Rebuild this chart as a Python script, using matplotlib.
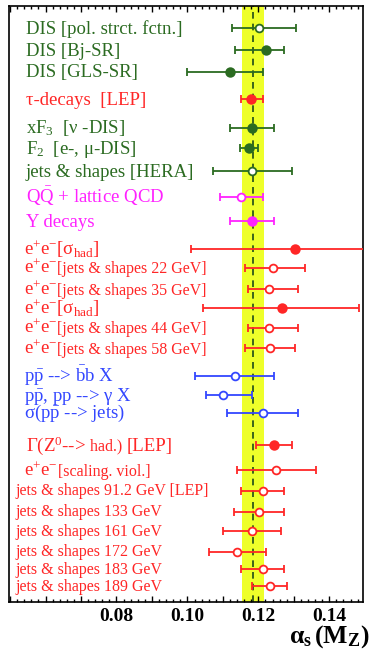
import matplotlib
matplotlib.use("Agg")
import matplotlib.pyplot as plt
from matplotlib.ticker import MultipleLocator, FuncFormatter
from matplotlib.transforms import blended_transform_factory

plt.rcParams['font.family'] = ['Liberation Serif', 'DejaVu Serif']
plt.rcParams['mathtext.fontset'] = 'custom'
plt.rcParams['mathtext.rm'] = 'Liberation Serif'
plt.rcParams['mathtext.it'] = 'Liberation Serif:italic'
plt.rcParams['mathtext.bf'] = 'Liberation Serif:bold'

GREEN = '#2b6b21'
RED = '#ff2626'
MAGENTA = '#ff22ff'
BLUE = '#3347ff'

BIG = 13.5
SMALL = 11.5

# labels: list of (text, fontsize) parts
labels = [
    [("DIS [pol. strct. fctn.]", BIG)],
    [("DIS [Bj-SR]", BIG)],
    [("DIS [GLS-SR]", BIG)],
    [("τ-decays  [LEP]", BIG)],
    [("xF$_3$  [ν -DIS]", BIG)],
    [("F$_2$  [e-, μ-DIS]", BIG)],
    [("jets & shapes [HERA]", BIG)],
    [(r"Q$\bar{\mathrm{Q}}$ + lattice QCD", BIG)],
    [("Υ decays", BIG)],
    [(r"e$^{+}$e$^{-}$[σ$_{\mathrm{had}}$]", BIG)],
    [(r"e$^{+}$e$^{-}$", BIG), ("[jets & shapes 22 GeV]", SMALL)],
    [(r"e$^{+}$e$^{-}$", BIG), ("[jets & shapes 35 GeV]", SMALL)],
    [(r"e$^{+}$e$^{-}$[σ$_{\mathrm{had}}$]", BIG)],
    [(r"e$^{+}$e$^{-}$", BIG), ("[jets & shapes 44 GeV]", SMALL)],
    [(r"e$^{+}$e$^{-}$", BIG), ("[jets & shapes 58 GeV]", SMALL)],
    [(r"p$\bar{\mathrm{p}}$ --> $\bar{\mathrm{b}}$b X", BIG)],
    [(r"p$\bar{\mathrm{p}}$, pp --> γ X", BIG)],
    [(r"σ(p$\bar{\mathrm{p}}$ --> jets)", BIG)],
    [("Γ(Z$^{0}$-->", BIG), (" had.) ", SMALL), ("[LEP]", BIG)],
    [(r"e$^{+}$e$^{-}$", BIG), ("[scaling. viol.]", SMALL)],
    [("jets & shapes 91.2 GeV [LEP]", SMALL)],
    [("jets & shapes 133 GeV", SMALL)],
    [("jets & shapes 161 GeV", SMALL)],
    [("jets & shapes 172 GeV", SMALL)],
    [("jets & shapes 183 GeV", SMALL)],
    [("jets & shapes 189 GeV", SMALL)],
]

alpha_s = [0.1201, 0.1221, 0.1121, 0.1180, 0.1182, 0.1174, 0.1182, 0.1151, 0.1182,
           0.1302, 0.1241, 0.1230, 0.1267, 0.1230, 0.1232,
           0.1135, 0.1100, 0.1212,
           0.1243, 0.1250, 0.1212, 0.1201, 0.1182, 0.1141, 0.1212, 0.1232]
err_minus = [0.0075, 0.0086, 0.0121, 0.0029, 0.0061, 0.0025, 0.0111, 0.0060, 0.0061,
             0.0291, 0.0078, 0.0060, 0.0223, 0.0058, 0.0069,
             0.0115, 0.0048, 0.0101,
             0.0050, 0.0110, 0.0061, 0.0071, 0.0083, 0.0081, 0.0060, 0.0050]
err_plus = [0.0105, 0.0052, 0.0092, 0.0032, 0.0061, 0.0025, 0.0113, 0.0062, 0.0061,
            0.0210, 0.0091, 0.0082, 0.0218, 0.0083, 0.0072,
            0.0108, 0.0082, 0.0101,
            0.0052, 0.0113, 0.0061, 0.0072, 0.0082, 0.0080, 0.0061, 0.0050]
filled = [False, True, True, True, True, True, False, False, True,
          True, False, False, True, False, False,
          False, False, False,
          True, False, False, False, False, False, False, False]
colors = [GREEN] * 3 + [RED] + [GREEN] * 3 + [MAGENTA] * 2 + [RED] * 6 + [BLUE] * 3 + [RED] * 8

world_avg = 0.1184
world_err = 0.0031

# row layout (pixel rows from top) and label start (pixels)
row_y = [28.3, 50, 71.7, 99.3, 127.7, 148.3, 171, 197.3, 221,
         249.3, 267.7, 289, 308.3, 327.7, 348.3,
         376, 395, 412.7,
         445, 470, 490.7, 511.7, 531, 551.7, 569.3, 586]
label_x = [25.5] * 9 + [23.5] * 6 + [24.5] * 3 + [26, 24.3] + [15] * 6

fig = plt.figure(figsize=(3.72, 6.54), dpi=100)
ax = fig.add_axes([9 / 372, 52 / 654, 354 / 372, 596 / 654])
ax.set_xlim(0.0497, 0.1495)
ax.set_ylim(602, 6)

ax.axvspan(world_avg - world_err, world_avg + world_err, color='#eeff2a', zorder=1, lw=0)
ax.axvline(world_avg, color='#1d4a1a', ls=(0, (4, 3)), lw=1.2, zorder=2)

for i in range(len(alpha_s)):
    c = colors[i]
    ax.errorbar(alpha_s[i], row_y[i], xerr=[[err_minus[i]], [err_plus[i]]], fmt='o',
                color=c, ecolor=c, elinewidth=1.3, capsize=3, capthick=1.3,
                markersize=6.2 if filled[i] else 5.6,
                markerfacecolor=c if filled[i] else 'white',
                markeredgecolor=c, markeredgewidth=1.3, zorder=3)

trans = blended_transform_factory(ax.transAxes, ax.transData)
renderer = fig.canvas.get_renderer()
for i, parts in enumerate(labels):
    x = (label_x[i] - 9) / 354
    base = row_y[i] + 0.3 * parts[0][1] * 100 / 72
    for txt, size in parts:
        t = ax.text(x, base, txt, transform=trans, fontsize=size, color=colors[i],
                    ha='left', va='baseline')
        bb = t.get_window_extent(renderer)
        x = ax.transAxes.inverted().transform((bb.x1, bb.y0))[0]

ax.xaxis.set_major_locator(MultipleLocator(0.01))
ax.xaxis.set_minor_locator(MultipleLocator(0.002))
shown = {8: '0.08', 10: '0.10', 12: '0.12', 14: '0.14'}
ax.xaxis.set_major_formatter(FuncFormatter(lambda v, p: shown.get(int(round(v * 100)), '')))
ax.tick_params(axis='x', which='both', direction='in', top=True, bottom=True, width=1)
ax.tick_params(axis='x', which='major', length=4, pad=4, labelsize=14)
ax.tick_params(axis='x', which='minor', length=2)
for lab in ax.get_xticklabels():
    lab.set_fontweight('bold')
ax.set_yticks([])
for s in ax.spines.values():
    s.set_linewidth(1.2)

fig.text(369 / 372, 1 - 637 / 654, r"$\mathbf{α_{s}\,(M_{Z})}$", ha='right', va='center',
         fontsize=18.5)

fig.savefig('out.png', dpi=100)
